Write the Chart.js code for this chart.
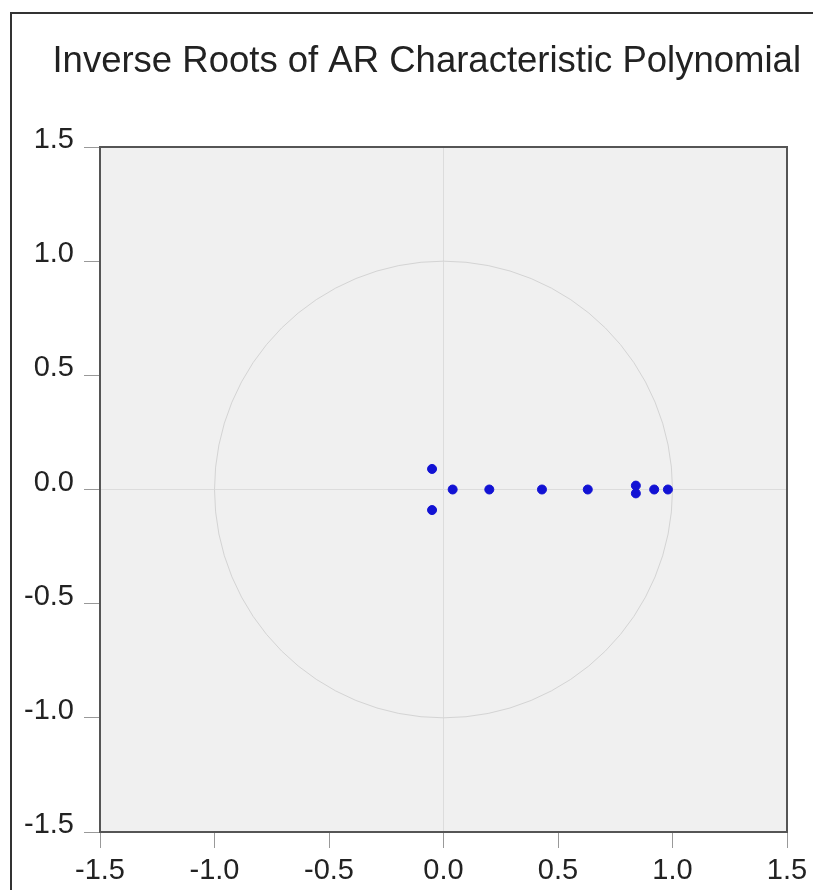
<!DOCTYPE html>
<html>
<head>
<meta charset="utf-8">
<script src="https://cdn.jsdelivr.net/npm/chart.js@4"></script>
<style>
  html, body { margin: 0; padding: 0; background: #fff; overflow: hidden; }
  #wrap { position: relative; width: 813px; height: 890px; }
  #frame { position: absolute; left: 10px; top: 12px; width: 900px; height: 900px;
           border-left: 2px solid #333; border-top: 2px solid #333; pointer-events: none; }
</style>
</head>
<body>
<div id="wrap">
  <canvas id="myChart" width="813" height="890"></canvas>
  <div id="frame"></div>
</div>
<script>
const realParts = [-0.05, -0.05, 0.04, 0.20, 0.43, 0.63, 0.84, 0.84, 0.92, 0.98]
const imagParts = [0.09, -0.09, 0.0, 0.0, 0.0, 0.0, 0.017, -0.017, 0.0, 0.0]
const axisMin = -1.5
const axisMax = 1.5
const axisStep = 0.5

const points = realParts.map((re, i) => ({ x: re, y: imagParts[i] }))

const FONT = "'Liberation Sans', Arial, sans-serif"

// gray plot background, unit circle and full border around the plot area
const plotDecor = {
  id: 'plotDecor',
  beforeDraw(chart) {
    const { ctx, chartArea: a } = chart
    ctx.save()
    ctx.fillStyle = '#f0f0f0'
    ctx.fillRect(a.left, a.top, a.right - a.left, a.bottom - a.top)
    ctx.restore()
  },
  beforeDatasetsDraw(chart) {
    const { ctx, scales } = chart
    ctx.save()
    // unit circle
    const cx = scales.x.getPixelForValue(0)
    const cy = scales.y.getPixelForValue(0)
    const rx = scales.x.getPixelForValue(1) - cx
    const ry = cy - scales.y.getPixelForValue(1)
    ctx.beginPath()
    ctx.ellipse(cx, cy, rx, ry, 0, 0, Math.PI * 2)
    ctx.strokeStyle = '#d4d4d4'
    ctx.lineWidth = 1
    ctx.stroke()
    ctx.restore()
  },
  afterDatasetsDraw(chart) {
    const { ctx, chartArea: a } = chart
    ctx.save()
    ctx.strokeStyle = '#555'
    ctx.lineWidth = 2
    ctx.strokeRect(a.left, a.top, a.right - a.left, a.bottom - a.top)
    ctx.restore()
  },
}

const zeroGrid = {
  color: (c) => (c.tick && c.tick.value === 0 ? '#dcdcdc' : 'rgba(0,0,0,0)'),
  lineWidth: 1,
  drawTicks: true,
  tickLength: 16,
  tickColor: '#999',
}

const config = {
  type: 'scatter',
  data: {
    datasets: [
      {
        label: 'Inverse roots',
        data: points,
        backgroundColor: '#1212d4',
        borderColor: '#1212d4',
        pointRadius: 4.5,
        pointHoverRadius: 4.5,
      },
    ],
  },
  options: {
    responsive: false,
    animation: false,
    layout: { padding: { left: 0, right: 12, top: 0, bottom: 0 } },
    plugins: {
      legend: { display: false },
      tooltip: { enabled: false },
      title: {
        display: true,
        text: 'Inverse Roots of AR Characteristic Polynomial',
        color: '#222',
        font: { family: FONT, size: 36.5, weight: 'normal', lineHeight: 1.2 },
        padding: { top: 40.5, bottom: 62.7 },
        align: 'end',
      },
    },
    scales: {
      x: {
        type: 'linear',
        min: axisMin,
        max: axisMax,
        border: { display: false },
        grid: zeroGrid,
        ticks: {
          stepSize: axisStep,
          color: '#222',
          font: { family: FONT, size: 29 },
          padding: 6,
          maxRotation: 0,
          callback: (v) => v.toFixed(1),
        },
        afterFit: (s) => { s.height = 58; s.paddingRight = 26 },
      },
      y: {
        type: 'linear',
        min: axisMin,
        max: axisMax,
        border: { display: false },
        grid: zeroGrid,
        ticks: {
          stepSize: axisStep,
          color: '#222',
          font: { family: FONT, size: 29 },
          padding: 10,
          labelOffset: -7,
          callback: (v) => v.toFixed(1),
        },
        afterFit: (s) => { s.width = 100 },
      },
    },
  },
  plugins: [plotDecor],
}

var myChart = new Chart(document.getElementById('myChart'), config)
</script>
</body>
</html>
